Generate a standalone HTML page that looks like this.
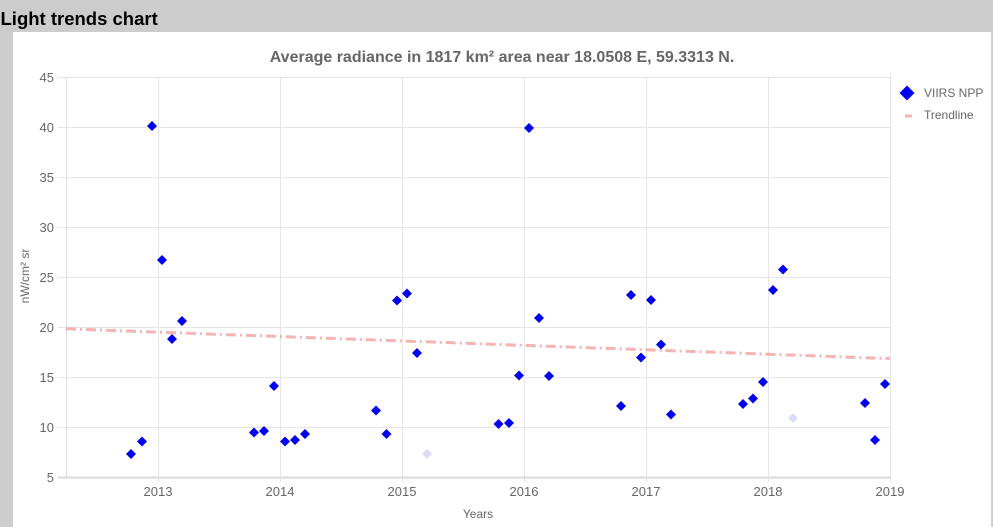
<!DOCTYPE html>
<html><head><meta charset="utf-8"><style>
html,body{margin:0;padding:0;background:#cccccc;width:993px;height:527px;overflow:hidden}
svg{display:block;font-family:"Liberation Sans",Arial,sans-serif}
</style></head><body>
<svg width="993" height="527" viewBox="0 0 993 527" xmlns="http://www.w3.org/2000/svg">
<rect x="0" y="0" width="993" height="527" fill="#cccccc"/>
<text x="0.5" y="25" font-size="18.5" font-weight="bold" fill="#000">Light trends chart</text>
<rect x="13" y="32" width="978" height="495" fill="#ffffff"/>
<line x1="991.5" y1="32" x2="991.5" y2="527" stroke="#d0d0d0" stroke-width="1"/>
<text x="502" y="62" font-size="16" font-weight="bold" fill="#666" text-anchor="middle">Average radiance in 1817 km² area near 18.0508 E, 59.3313 N.</text>
<g stroke="#e6e6e6" stroke-width="1">
<line x1="58" y1="77.5" x2="890" y2="77.5"/>
<line x1="58" y1="127.5" x2="890" y2="127.5"/>
<line x1="58" y1="177.5" x2="890" y2="177.5"/>
<line x1="58" y1="227.5" x2="890" y2="227.5"/>
<line x1="58" y1="277.5" x2="890" y2="277.5"/>
<line x1="58" y1="327.5" x2="890" y2="327.5"/>
<line x1="58" y1="377.5" x2="890" y2="377.5"/>
<line x1="58" y1="427.5" x2="890" y2="427.5"/>
<line x1="158.5" y1="77" x2="158.5" y2="482"/>
<line x1="280.5" y1="77" x2="280.5" y2="482"/>
<line x1="402.5" y1="77" x2="402.5" y2="482"/>
<line x1="524.5" y1="77" x2="524.5" y2="482"/>
<line x1="646.5" y1="77" x2="646.5" y2="482"/>
<line x1="768.5" y1="77" x2="768.5" y2="482"/>
<line x1="890.5" y1="74" x2="890.5" y2="482"/>
</g>
<line x1="66.5" y1="77" x2="66.5" y2="478" stroke="#e0e0e0" stroke-width="1"/>
<line x1="58" y1="477.5" x2="891" y2="477.5" stroke="#dadada" stroke-width="2"/>
<g font-size="13" fill="#666" text-anchor="end">
<text x="54" y="82">45</text>
<text x="54" y="132">40</text>
<text x="54" y="182">35</text>
<text x="54" y="232">30</text>
<text x="54" y="282">25</text>
<text x="54" y="332">20</text>
<text x="54" y="382">15</text>
<text x="54" y="432">10</text>
<text x="54" y="482">5</text>
</g>
<g font-size="13" fill="#666" text-anchor="middle">
<text x="158" y="496">2013</text>
<text x="280" y="496">2014</text>
<text x="402" y="496">2015</text>
<text x="524" y="496">2016</text>
<text x="646" y="496">2017</text>
<text x="768" y="496">2018</text>
<text x="890" y="496">2019</text>
</g>
<text x="478" y="518" font-size="12" fill="#666" text-anchor="middle">Years</text>
<text transform="translate(29,276) rotate(-90)" font-size="12" fill="#666" text-anchor="middle">nW/cm² sr</text>
<line x1="66" y1="328.8" x2="890" y2="358.6" stroke="#f08a8a" stroke-opacity="0.65" stroke-width="3" stroke-dasharray="10,4,2,4"/>
<g fill="#0000ee">
<path d="M131 449l5 5-5 5-5-5z"/>
<path d="M142 436.5l5 5-5 5-5-5z"/>
<path d="M152 121l5 5-5 5-5-5z"/>
<path d="M162 255l5 5-5 5-5-5z"/>
<path d="M172 334l5 5-5 5-5-5z"/>
<path d="M182 316l5 5-5 5-5-5z"/>
<path d="M254 427.5l5 5-5 5-5-5z"/>
<path d="M264 426l5 5-5 5-5-5z"/>
<path d="M274 381l5 5-5 5-5-5z"/>
<path d="M285 436.5l5 5-5 5-5-5z"/>
<path d="M295 435l5 5-5 5-5-5z"/>
<path d="M305 429l5 5-5 5-5-5z"/>
<path d="M376 405.5l5 5-5 5-5-5z"/>
<path d="M386.5 429l5 5-5 5-5-5z"/>
<path d="M397 295.5l5 5-5 5-5-5z"/>
<path d="M407 288.5l5 5-5 5-5-5z"/>
<path d="M417 348l5 5-5 5-5-5z"/>
<path d="M498.5 419l5 5-5 5-5-5z"/>
<path d="M509 418l5 5-5 5-5-5z"/>
<path d="M519 370.5l5 5-5 5-5-5z"/>
<path d="M529 123l5 5-5 5-5-5z"/>
<path d="M539 313l5 5-5 5-5-5z"/>
<path d="M549 371l5 5-5 5-5-5z"/>
<path d="M621 401l5 5-5 5-5-5z"/>
<path d="M631 290l5 5-5 5-5-5z"/>
<path d="M641 352.5l5 5-5 5-5-5z"/>
<path d="M651 295l5 5-5 5-5-5z"/>
<path d="M661 339.5l5 5-5 5-5-5z"/>
<path d="M671 409.5l5 5-5 5-5-5z"/>
<path d="M743 399l5 5-5 5-5-5z"/>
<path d="M753 393.5l5 5-5 5-5-5z"/>
<path d="M763 377l5 5-5 5-5-5z"/>
<path d="M773 285l5 5-5 5-5-5z"/>
<path d="M783 264.5l5 5-5 5-5-5z"/>
<path d="M865 398l5 5-5 5-5-5z"/>
<path d="M875 435l5 5-5 5-5-5z"/>
<path d="M885 379l5 5-5 5-5-5z"/>
</g>
<g fill="#dcdcf8">
<path d="M427 449l5 5-5 5-5-5z"/>
<path d="M793 413l5 5-5 5-5-5z"/>
</g>
<path d="M907 85.5l7.5 7.5-7.5 7.5-7.5-7.5z" fill="#0000ee"/>
<text x="924" y="97" font-size="12" fill="#666">VIIRS NPP</text>
<line x1="905" y1="116" x2="912" y2="116" stroke="#f08a8a" stroke-opacity="0.65" stroke-width="3"/>
<text x="924" y="119" font-size="12" fill="#666">Trendline</text>
</svg>
</body></html>
